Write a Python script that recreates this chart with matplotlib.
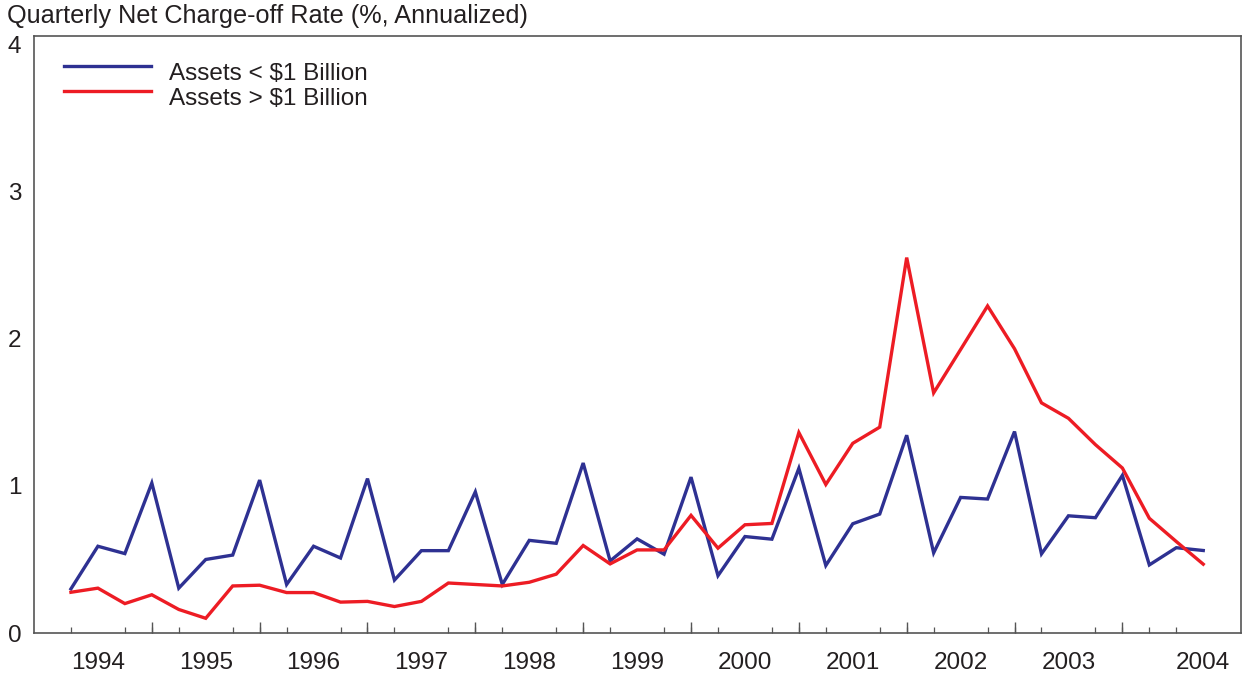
import matplotlib
matplotlib.use("Agg")
import matplotlib.pyplot as plt
from matplotlib.legend_handler import HandlerLine2D
import numpy as np

plt.rcParams['font.family'] = ['Liberation Sans', 'DejaVu Sans']

# Quarterly data, 43 quarters
small_banks = [0.30, 0.59, 0.54, 1.02, 0.305, 0.50, 0.53, 1.04, 0.33, 0.59,
               0.51, 1.05, 0.36, 0.56, 0.56, 0.96, 0.33, 0.63, 0.61, 1.156,
               0.49, 0.64, 0.536, 1.06, 0.39, 0.656, 0.638, 1.12, 0.459, 0.743,
               0.809, 1.345, 0.545, 0.922, 0.911, 1.37, 0.538, 0.797, 0.784, 1.072,
               0.463, 0.58, 0.561]
large_banks = [0.277, 0.305, 0.20, 0.26, 0.16, 0.10, 0.32, 0.325, 0.275, 0.275,
               0.21, 0.215, 0.18, 0.215, 0.34, 0.33, 0.32, 0.345, 0.40, 0.595,
               0.47, 0.565, 0.565, 0.80, 0.577, 0.736, 0.745, 1.363, 1.01, 1.29,
               1.40, 2.553, 1.633, 1.928, 2.224, 1.933, 1.565, 1.46, 1.281, 1.122,
               0.78, 0.622, 0.468]
year_labels = ['1994', '1995', '1996', '1997', '1998', '1999', '2000', '2001',
               '2002', '2003', '2004']
year_label_pos = [1, 5, 9, 13, 17, 21, 25, 29, 33, 37, 42]
year_tick_pos = [3, 7, 11, 15, 19, 23, 27, 31, 35, 39]
labels = ['Assets < $1 Billion', 'Assets > $1 Billion']

blue = '#2E3192'
red = '#ED1C24'
txt = '#231F20'
spine = '#555555'


class RaisedLine(HandlerLine2D):
    def create_artists(self, legend, orig_handle, xdescent, ydescent,
                       width, height, fontsize, trans):
        return super().create_artists(legend, orig_handle, xdescent,
                                      ydescent - 8.0, width, height,
                                      fontsize, trans)


fig = plt.figure(figsize=(12.44, 6.74), dpi=100)
W, H = 1244, 674
ax = fig.add_axes([34 / W, 1 - 633 / H, (1241 - 34) / W, (633 - 36) / H])

x = np.arange(len(small_banks))
l1, = ax.plot(x, small_banks, color=blue, lw=2.4, label=labels[0], solid_joinstyle='miter')
l2, = ax.plot(x, large_banks, color=red, lw=2.4, label=labels[1], solid_joinstyle='miter')

ax.set_xlim(-1.37, 43.4)
ax.set_ylim(0, 4.06)

for s in ax.spines.values():
    s.set_color(spine)
    s.set_linewidth(1.2)

ax.set_yticks([0, 1, 2, 3, 4])
ax.set_yticklabels(['0', '1', '2', '3', '4'])
ax.tick_params(axis='y', length=0, pad=9, labelsize=17.5, labelcolor=txt)

ax.set_xticks(year_label_pos)
ax.set_xticklabels(year_labels)
ax.set_xticks(x, minor=True)
ax.tick_params(axis='x', which='major', length=0, pad=14, labelsize=17.5, labelcolor=txt)
ax.tick_params(axis='x', which='minor', direction='in', length=4, width=0.9, color=spine)

sec = ax.secondary_xaxis('bottom')
sec.set_xticks(year_tick_pos)
sec.set_xticklabels([])
sec.tick_params(axis='x', direction='in', length=8, width=1.0, color=spine)
sec.spines['bottom'].set_visible(False)

leg = ax.legend(handles=[l1, l2], loc='upper left',
                bbox_to_anchor=(20 / (1241 - 34), 1 - 17 / (633 - 36)),
                frameon=False, fontsize=17.5, handlelength=3.6, handletextpad=0.75,
                labelspacing=0.12, borderaxespad=0,
                handler_map={l1: RaisedLine(), l2: RaisedLine()})
for t in leg.get_texts():
    t.set_color(txt)

fig.text(7 / W, 1 - 23 / H, 'Quarterly Net Charge-off Rate (%, Annualized)',
         fontsize=18.2, color=txt, ha='left', va='baseline')

fig.savefig('out.png', dpi=100)
